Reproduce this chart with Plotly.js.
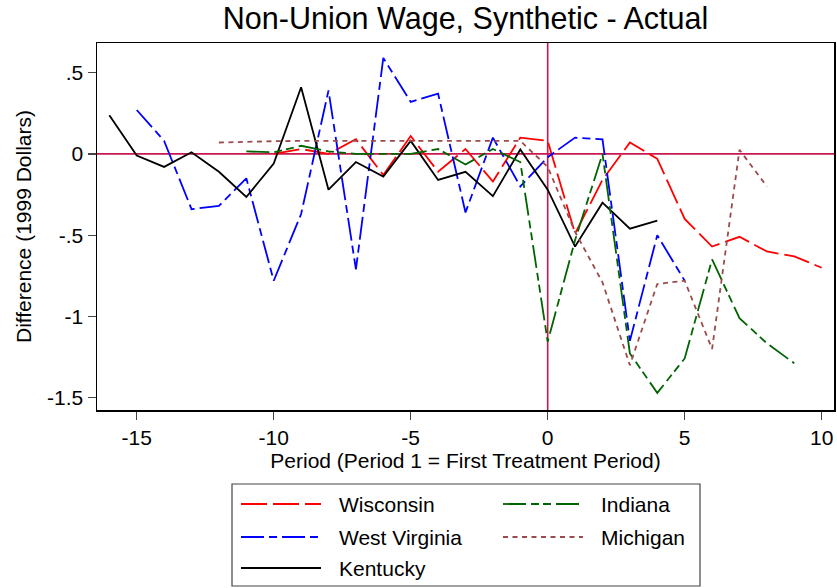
<!DOCTYPE html>
<html>
<head>
<meta charset="utf-8">
<script src="https://cdn.plot.ly/plotly-3.0.1.min.js"></script>
<style>
html,body{margin:0;padding:0;background:#fff;}
#chart{width:837px;height:588px;}
</style>
</head>
<body>
<div id="chart"></div>
<script>
// ---- Data ----
const wisconsinPeriods = [-10,-9,-8,-7,-6,-5,-4,-3,-2,-1,0,1,2,3,4,5,6,7,8,9,10];
const wisconsinValues  = [0.0,0.03,0.0,0.09,-0.13,0.11,-0.11,0.03,-0.17,0.10,0.08,-0.49,-0.16,0.07,-0.03,-0.40,-0.57,-0.51,-0.60,-0.63,-0.70];

const westVirginiaPeriods = [-15,-14,-13,-12,-11,-10,-9,-8,-7,-6,-5,-4,-3,-2,-1,0,1,2,3,4,5];
const westVirginiaValues  = [0.27,0.08,-0.34,-0.32,-0.15,-0.78,-0.37,0.39,-0.71,0.59,0.32,0.37,-0.36,0.10,-0.20,-0.02,0.10,0.09,-1.15,-0.50,-0.78];

const kentuckyPeriods = [-16,-15,-14,-13,-12,-11,-10,-9,-8,-7,-6,-5,-4,-3,-2,-1,0,1,2,3,4];
const kentuckyValues  = [0.238,-0.01,-0.08,0.01,-0.11,-0.265,-0.06,0.41,-0.22,-0.05,-0.14,0.08,-0.16,-0.11,-0.26,0.027,-0.22,-0.57,-0.30,-0.46,-0.41];

const indianaPeriods = [-11,-10,-9,-8,-7,-6,-5,-4,-3,-2,-1,0,1,2,3,4,5,6,7,8,9];
const indianaValues  = [0.015,0.01,0.05,0.015,0.0,0.0,0.0,0.03,-0.065,0.03,-0.05,-1.155,-0.53,0.0,-1.227,-1.47,-1.258,-0.649,-1.01,-1.165,-1.288];

const michiganPeriods = [-12,-11,-10,-9,-8,-7,-6,-5,-4,-3,-2,-1,0,1,2,3,4,5,6,7,8];
const michiganValues  = [0.07,0.075,0.078,0.08,0.08,0.08,0.08,0.08,0.08,0.082,0.082,0.08,-0.08,-0.48,-0.79,-1.30,-0.80,-0.78,-1.20,0.025,-0.20];

const seriesNames = ["Wisconsin","West Virginia","Kentucky","Indiana","Michigan"];
const xTickVals = [-15,-10,-5,0,5,10];
const xTickText = ["-15","-10","-5","0","5","10"];
const yTickVals = [0.5,0,-0.5,-1,-1.5];
const yTickText = [".5","0","-.5","-1","-1.5"];

// ---- Styles ----
const styles = {
  "Wisconsin":     {color:"#ff0000", dash:"26px,6px"},
  "West Virginia": {color:"#0000ff", dash:"23px,5px,8px,5px"},
  "Kentucky":      {color:"#000000", dash:"solid"},
  "Indiana":       {color:"#006400", dash:"23px,5px,8px,4px,8px,5px"},
  "Michigan":      {color:"#9b4b4b", dash:"5px,4.5px"}
};
const seriesData = {
  "Wisconsin": [wisconsinPeriods, wisconsinValues],
  "West Virginia": [westVirginiaPeriods, westVirginiaValues],
  "Kentucky": [kentuckyPeriods, kentuckyValues],
  "Indiana": [indianaPeriods, indianaValues],
  "Michigan": [michiganPeriods, michiganValues]
};

const FONT = "Liberation Sans, Arial, Helvetica, sans-serif";
const W = 837, H = 588;
const M = {l:97, r:3, t:43, b:178};
const plotW = W - M.l - M.r, plotH = H - M.t - M.b;
const px2x = px => (px - M.l) / plotW;
const py2y = py => (H - M.b - py) / plotH;

const traces = seriesNames.map(n => ({
  type: "scatter", mode: "lines", name: n,
  x: seriesData[n][0], y: seriesData[n][1],
  line: {color: styles[n].color, dash: styles[n].dash, width: 1.8},
  showlegend: false, hoverinfo: "skip"
}));

const refColor = "#c8184f";
const shapes = [
  {type:"line", xref:"x", yref:"paper", x0:0, x1:0, y0:0, y1:1, line:{color:refColor, width:1.6}, layer:"below"},
  {type:"line", xref:"paper", yref:"y", x0:0, x1:1, y0:0, y1:0, line:{color:refColor, width:1.6}, layer:"below"},
  // legend box
  {type:"rect", xref:"paper", yref:"paper", x0:px2x(232), x1:px2x(700), y0:py2y(484), y1:py2y(586),
   line:{color:"#444", width:1.2}, fillcolor:"rgba(0,0,0,0)"}
];
const annotations = [];
const legendPos = [
  {name:"Wisconsin", lx:241, tx:337, y:504},
  {name:"Indiana", lx:503, tx:599, y:504},
  {name:"West Virginia", lx:241, tx:337, y:537},
  {name:"Michigan", lx:503, tx:599, y:537},
  {name:"Kentucky", lx:241, tx:337, y:568}
];
legendPos.forEach(p => {
  shapes.push({type:"line", xref:"paper", yref:"paper",
    x0:px2x(p.lx), x1:px2x(p.lx+80), y0:py2y(p.y), y1:py2y(p.y),
    line:{color:styles[p.name].color, dash:styles[p.name].dash, width:1.8}});
  annotations.push({xref:"paper", yref:"paper", x:px2x(p.tx), y:py2y(p.y),
    xanchor:"left", yanchor:"middle", showarrow:false, text:p.name,
    font:{family:FONT, size:21, color:"#000"}});
});

const layout = {
  width: W, height: H,
  margin: M,
  paper_bgcolor: "#fff", plot_bgcolor: "#fff",
  font: {family: FONT, size: 21, color: "#000"},
  title: {text: "Non-Union Wage, Synthetic - Actual", font:{family:FONT, size:30.5, color:"#000"},
          x: 465.5/W, xanchor:"center", y: 1 - 18/H, yanchor:"middle"},
  xaxis: {range:[-16.45, 10.45], tickvals:xTickVals, ticktext:xTickText, ticks:"outside", ticklen:8, tickwidth:1.3,
          showline:true, mirror:true, linecolor:"#000", linewidth:1.5, showgrid:false, zeroline:false,
          tickfont:{family:FONT, size:21},
          title:{text:"Period (Period 1 = First Treatment Period)", font:{family:FONT, size:21}, standoff:4}},
  yaxis: {range:[-1.575, 0.682], tickvals:yTickVals, ticktext:yTickText, ticks:"outside", ticklen:8, tickwidth:1.3,
          showline:true, mirror:true, linecolor:"#000", linewidth:1.5, showgrid:false, zeroline:false,
          tickfont:{family:FONT, size:21},
          title:{text:"Difference (1999 Dollars)", font:{family:FONT, size:21}, standoff:10}},
  shapes: shapes,
  annotations: annotations,
  showlegend: false
};

Plotly.newPlot("chart", traces, layout, {displayModeBar:false, staticPlot:true});
</script>
</body>
</html>
